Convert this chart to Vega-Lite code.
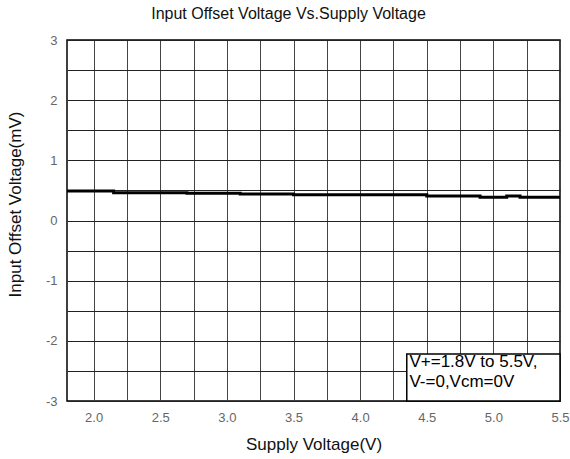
{
  "$schema": "https://vega.github.io/schema/vega-lite/v6.json",
  "width": 493,
  "height": 361,
  "autosize": {"type": "none"},
  "padding": {"left": 67, "top": 40, "right": 10, "bottom": 58},
  "background": "white",
  "config": {
    "font": "Liberation Sans",
    "view": {"stroke": "black", "strokeWidth": 1.5}
  },
  "title": {
    "text": "Input Offset Voltage Vs.Supply Voltage",
    "fontSize": 16,
    "fontWeight": "normal",
    "color": "#111",
    "dx": -25,
    "offset": 12
  },
  "datasets": {
    "curve": [
      {"v": 1.8, "vos": 0.49},
      {"v": 2.15, "vos": 0.462},
      {"v": 2.7, "vos": 0.452},
      {"v": 3.1, "vos": 0.44},
      {"v": 3.5, "vos": 0.429},
      {"v": 4.5, "vos": 0.407},
      {"v": 4.9, "vos": 0.385},
      {"v": 5.1, "vos": 0.407},
      {"v": 5.2, "vos": 0.385},
      {"v": 5.5, "vos": 0.385}
    ],
    "box": [{"v": 4.35, "v2": 5.5, "vos": -3, "vos2": -2.22}],
    "note": [
      {"v": 4.37, "vos": -2.36, "label": "V+=1.8V to 5.5V,"},
      {"v": 4.37, "vos": -2.68, "label": "V-=0,Vcm=0V"}
    ]
  },
  "encoding": {
    "x": {
      "field": "v", "type": "quantitative",
      "scale": {"domain": [1.8, 5.5], "nice": false, "zero": false},
      "axis": {
        "title": "Supply Voltage(V)",
        "titleFontSize": 17, "titleFontWeight": "normal", "titleColor": "#111", "titlePadding": 12,
        "values": [2.0, 2.25, 2.5, 2.75, 3.0, 3.25, 3.5, 3.75, 4.0, 4.25, 4.5, 4.75, 5.0, 5.25, 5.5],
        "labelExpr": "(datum.value * 2) % 1 === 0 ? format(datum.value, '.1f') : ''",
        "labelFontSize": 13, "labelColor": "#666", "labelPadding": 10, "labelFlush": false,
        "ticks": false, "domain": false,
        "grid": true, "gridColor": "#444", "gridWidth": 1, "gridOpacity": 1
      }
    },
    "y": {
      "field": "vos", "type": "quantitative",
      "scale": {"domain": [-3, 3], "nice": false},
      "axis": {
        "title": "Input Offset Voltage(mV)",
        "titleFontSize": 17, "titleFontWeight": "normal", "titleColor": "#111", "titlePadding": 21,
        "titleY": 164,
        "values": [-3, -2.5, -2, -1.5, -1, -0.5, 0, 0.5, 1, 1.5, 2, 2.5, 3],
        "labelExpr": "datum.value % 1 === 0 ? ('' + datum.value) : ''",
        "labelFontSize": 13, "labelColor": "#666", "labelPadding": 10,
        "ticks": false, "domain": false,
        "grid": true, "gridColor": "#222", "gridWidth": 1, "gridOpacity": 1
      }
    }
  },
  "layer": [
    {
      "data": {"name": "curve"},
      "mark": {"type": "line", "color": "black", "strokeWidth": 3, "interpolate": "step-after"}
    },
    {
      "data": {"name": "box"},
      "mark": {"type": "rect", "fill": "white", "stroke": "black", "strokeWidth": 1.5},
      "encoding": {
        "x2": {"field": "v2"},
        "y2": {"field": "vos2"}
      }
    },
    {
      "data": {"name": "note"},
      "mark": {"type": "text", "align": "left", "baseline": "middle", "fontSize": 17, "color": "black"},
      "encoding": {
        "text": {"field": "label"}
      }
    }
  ]
}
